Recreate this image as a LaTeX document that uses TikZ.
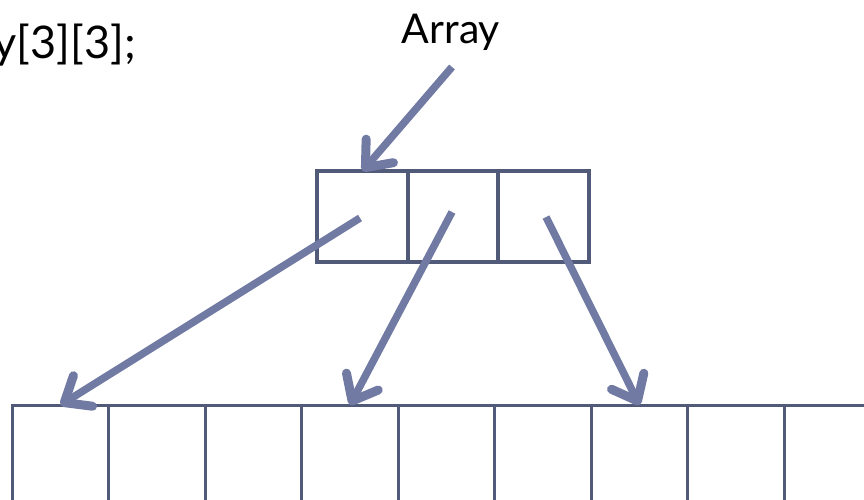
\documentclass[tikz,border=0pt]{standalone}
\usepackage{fontspec}
\setmainfont{Lato}
\usetikzlibrary{arrows.meta}
\definecolor{arrowc}{RGB}{112,122,162}
\definecolor{boxc}{RGB}{82,90,122}
\tikzset{
  cellA/.style={draw=boxc, line width=3.5pt, minimum width=91pt, minimum height=91pt, inner sep=0pt, outer sep=0pt},
  cellB/.style={draw=boxc, line width=3pt, minimum width=96.5pt, minimum height=130pt, inner sep=0pt, outer sep=0pt},
  ptr/.style={draw=arrowc, line width=7.5pt, -{Straight Barb[length=22pt, width=36pt, line width=9pt, line cap=round, line join=round]}},
  lbl/.style={font=\fontsize{41}{48}\selectfont, inner sep=0pt, text=black}
}
\begin{document}
\begin{tikzpicture}[x=1pt, y=-1pt]
\useasboundingbox (0,0) rectangle (864,499);
\clip (0,0) rectangle (864,499);
% label
\node[lbl, anchor=base] (arr) at (451,43) {Array};
\node[lbl, anchor=base east, font=\fontsize{45}{52}\selectfont] (decl) at (136,58) {y[3][3];};
% top array
\node[cellA] (a0) at (362.5,216.5) {};
\node[cellA] (a1) at (453,216.5) {};
\node[cellA] (a2) at (543.5,216.5) {};
% bottom row
\foreach \i in {0,...,8} {
  \node[cellB] (b\i) at ({60.5+96.5*\i},470) {};
}
% arrows
\coordinate (s) at (452,67);
\draw[ptr] (s) -- (a0.north);
\draw[ptr] (360,218) -- (b0.north);
\draw[ptr] (452,212) -- (b3.north);
\draw[ptr] (546,217) -- (b6.north);
\end{tikzpicture}
\end{document}
